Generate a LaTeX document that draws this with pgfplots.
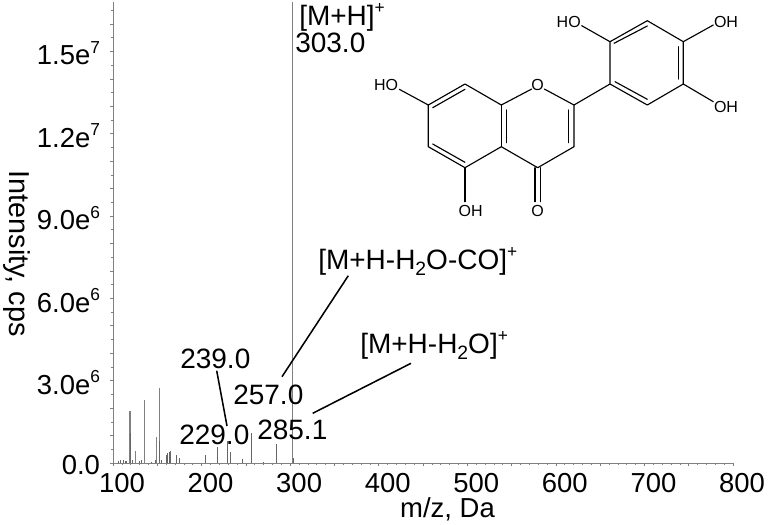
\documentclass[border=0pt]{standalone}
\usepackage{fontspec}
\setmainfont{Liberation Sans}
\usepackage{pgfplots}
\pgfplotsset{compat=1.18}
\definecolor{gline}{gray}{0.5}
\newcommand{\sups}[1]{\raisebox{0.42em}{\fontsize{13}{13}\selectfont #1}}
\newcommand{\subs}[1]{\raisebox{-0.22em}{\fontsize{14.5}{15}\selectfont #1}}
\newcommand{\lab}[3]{\node[anchor=base west,inner sep=0pt,font=\fontsize{21}{22}\selectfont] at (#1,#2) {#3};}
\newcommand{\atom}[3]{\node[inner sep=0pt,font=\fontsize{12}{13}\selectfont] at (#1,#2) {#3};}
\begin{document}
\begin{tikzpicture}[x=0.75pt,y=-0.75pt]
\path[use as bounding box] (0,0) rectangle (768,525);
\begin{axis}[
    at={(113pt*0.75,-463pt*0.75)},
    anchor=origin,
    scale only axis,
    width=465pt,
    height=345.75pt,
    xmin=100, xmax=800,
    ymin=0, ymax=1.68e7,
    axis lines=left,
    axis line style={-,gline,line width=0.7pt},
    tick style={gline,line width=0.5pt},
    xtick={100,200,...,800},
    ytick={0,3e6,6e6,9e6,1.2e7,1.5e7},
    yticklabels={0.0,3.0e\sups{6},6.0e\sups{6},9.0e\sups{6},1.2e\sups{7},1.5e\sups{7}},
    scaled ticks=false,
    xticklabel style={/pgf/number format/fixed,/pgf/number format/1000 sep={},xshift=6.75pt,yshift=-1.5pt},
    yticklabel style={xshift=-3.8pt,yshift=-1.5pt},
    minor xtick={110,120,...,790},
    minor ytick={0.5e6,1.5e6,...,16.5e6},
    extra x ticks={150,250,...,750},
    extra x tick labels={},
    extra y ticks={1e6,2e6,4e6,5e6,7e6,8e6,1e7,1.1e7,1.3e7,1.4e7,1.6e7},
    extra y tick labels={},
    tick align=outside,
    major tick length=2.4pt,
    minor tick length=1.3pt,
    tick label style={font=\fontsize{20.6}{21}\selectfont},
    /pgf/number format/assume math mode=true,
    xlabel={m/z, Da},
    ylabel={Intensity, cps},
    xlabel style={font=\fontsize{20.6}{21}\selectfont,at={(axis description cs:0.5395,0)},anchor=base,yshift=-40.5pt},
    ylabel style={font=\fontsize{21.6}{22}\selectfont,at={(axis description cs:0,0.454)},anchor=south,rotate=180,yshift=-85.75pt},
    clip=false,
]
% main peaks, grey
\addplot[ycomb,gline,line width=0.8pt,mark=none] table {
x y
119.2 1.9e6
125.6 0.44e6
136 2.28e6
149.3 0.93e6
152 2.75e6
303 1.68e7
};
% smaller peaks, dark
\addplot[ycomb,black!60,line width=0.4pt,mark=none] table {
x y
106 0.06e6
108.7 0.1e6
111.6 0.12e6
113.5 0.07e6
115.5 0.06e6
119.2 1.1e6
121.8 0.1e6
129.7 0.08e6
131.6 0.12e6
143.7 0.05e6
147.4 0.1e6
152 0.8e6
154.2 0.12e6
159.8 0.3e6
161.3 0.38e6
163.2 0.4e6
164.4 0.42e6
171 0.28e6
174.5 0.17e6
204 0.3e6
218 0.58e6
228.7 0.8e6
232.5 0.39e6
246 0.14e6
255.8 1.09e6
270 0.05e6
284.8 0.7e6
304 0.2e6
};
\end{axis}
% labels
\lab{299}{25}{[M+H]\sups{+}}
\lab{295}{52}{303.0}
\lab{318}{269}{[M+H-H\subs{2}O-CO]\sups{+}}
\lab{360}{353}{[M+H-H\subs{2}O]\sups{+}}
\lab{180}{368}{239.0}
\lab{233}{404}{257.0}
\lab{179}{444}{229.0}
\lab{257}{439}{285.1}
\draw[line width=1.15pt] (216.7,370.7) -- (227,426);
\draw[line width=1.15pt] (282,376.7) -- (348.3,275.7);
\draw[line width=1.15pt] (312.7,413.3) -- (411,363.3);
% molecule
\begin{scope}[line width=0.85pt,line cap=round,line join=round]
\draw (399.3,89.3) -- (428.3,105) -- (428.3,146.7) -- (465,167.7) -- (501.3,146.7) -- (537.7,167.7) -- (574,146.7) -- (574,105) -- (544.3,89);
\draw (428.3,105) -- (465,84) -- (501.3,105) -- (531.7,89);
\draw (501.3,105) -- (501.3,146.7);
\draw (574,105) -- (610,84) -- (610,41.7) -- (647.3,20.7) -- (683.3,41.7) -- (683.3,84) -- (647.3,105) -- (610,84);
\draw (610,41.7) -- (581.7,25.7);
\draw (683.3,41.7) -- (713.3,25);
\draw (683.3,84) -- (713.3,101.7);
\draw (465,167.7) -- (465,201.7);
\draw (535,167.7) -- (535,201.7);
\draw (540.5,167.7) -- (540.5,201.7);
\draw (432.7,107.7) -- (465,89.3);
\draw (432.7,144) -- (465,162.3);
\draw (506.7,110) -- (506.7,142.7);
\draw (568.3,110) -- (568.3,142.7);
\draw (614,43.3) -- (647.3,26);
\draw (678.3,46.7) -- (678.3,79);
\draw (615,81.7) -- (647.3,99.3);
\end{scope}
\atom{386}{85}{HO}
\atom{537.7}{85}{O}
\atom{470.7}{211}{OH}
\atom{537.7}{211}{O}
\atom{568.7}{21.7}{HO}
\atom{726}{21.7}{OH}
\atom{726}{106.7}{OH}
\end{tikzpicture}
\end{document}
